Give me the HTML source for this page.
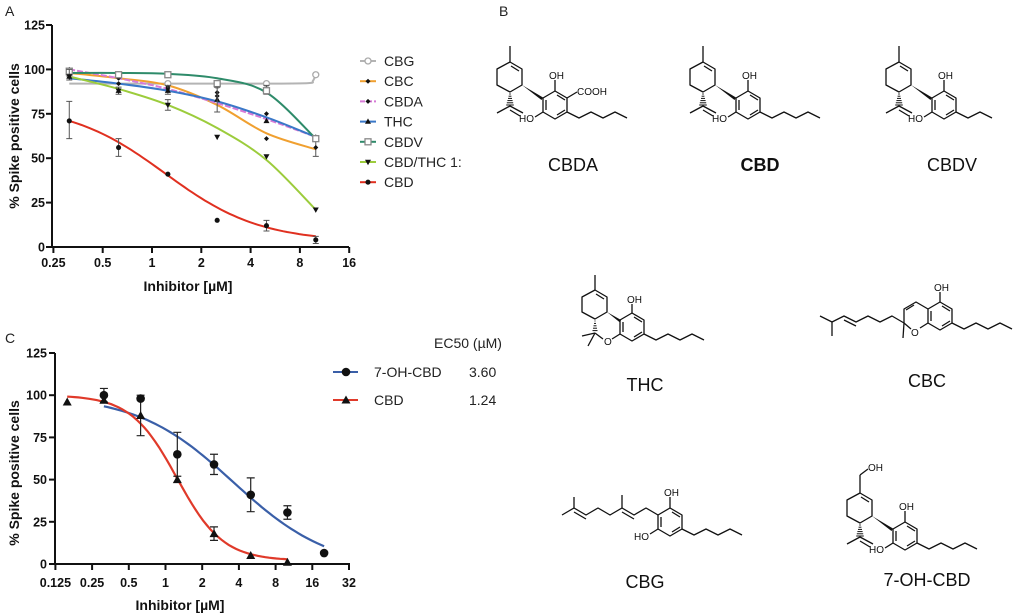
<!DOCTYPE html>
<html><head><meta charset="utf-8">
<style>
html,body{margin:0;padding:0;background:#fff;}
svg{display:block;font-family:"Liberation Sans",sans-serif;}
.t{font-weight:bold;font-size:12.5px;fill:#111;}
.lab{font-weight:bold;font-size:14px;fill:#111;}
.lg{font-size:14px;fill:#222;}
.nm{font-size:18px;fill:#111;}
.at{font-size:10px;fill:#111;}
.m{stroke:#111;stroke-width:1.3;fill:none;stroke-linejoin:round;}
</style></head><body>
<svg id="s" width="1024" height="613" viewBox="0 0 1024 613" xmlns="http://www.w3.org/2000/svg">
<text x="5" y="16" font-size="14" fill="#222">A</text>
<text x="499" y="16" font-size="14" fill="#222">B</text>
<text x="5" y="343" font-size="14" fill="#222">C</text>
<g id="A"></g><g id="C"></g><g id="B"></g>
</svg>
<script>
const NS="http://www.w3.org/2000/svg";
function el(par,tag,attrs,txt){const e=document.createElementNS(NS,tag);for(const k in attrs)e.setAttribute(k,attrs[k]);if(txt!==undefined)e.textContent=txt;par.appendChild(e);return e;}
const gA=document.getElementById('A'),gC=document.getElementById('C'),gB=document.getElementById('B');
const lg2=v=>Math.log2(v);
// ---------- Panel A
const xA=v=>152+49.3*lg2(v), yA=p=>247-p*1.776;
el(gA,'line',{x1:52,y1:25,x2:52,y2:248,stroke:'#111','stroke-width':2});
el(gA,'line',{x1:51,y1:247,x2:349,y2:247,stroke:'#111','stroke-width':2});
[0,25,50,75,100,125].forEach(p=>{el(gA,'line',{x1:46,y1:yA(p),x2:52,y2:yA(p),stroke:'#111','stroke-width':2});el(gA,'text',{x:45,y:yA(p)+4.5,'text-anchor':'end',class:'t'},p);});
[[0.25,'0.25'],[0.5,'0.5'],[1,'1'],[2,'2'],[4,'4'],[8,'8'],[16,'16']].forEach(([v,s])=>{const x=xA(v);el(gA,'line',{x1:x,y1:247,x2:x,y2:253,stroke:'#111','stroke-width':2});el(gA,'text',{x:x,y:267,'text-anchor':'middle',class:'t'},s);});
el(gA,'text',{x:188,y:291,'text-anchor':'middle',class:'lab'},'Inhibitor [µM]');
el(gA,'text',{x:0,y:0,'text-anchor':'middle',class:'lab',transform:'translate(19,136) rotate(-90)'},'% Spike positive cells');
const XS=[0.3125,0.625,1.25,2.5,5,10];
function crPath(pts){let d='M'+pts[0][0]+','+pts[0][1];for(let i=0;i<pts.length-1;i++){const p0=pts[Math.max(0,i-1)],p1=pts[i],p2=pts[i+1],p3=pts[Math.min(pts.length-1,i+2)];const c1=[p1[0]+(p2[0]-p0[0])/6,p1[1]+(p2[1]-p0[1])/6],c2=[p2[0]-(p3[0]-p1[0])/6,p2[1]-(p3[1]-p1[1])/6];d+=` C${c1[0]},${c1[1]} ${c2[0]},${c2[1]} ${p2[0]},${p2[1]}`;}return d;}
function hill(t,b,ec,h){return v=>b+(t-b)/(1+Math.pow(v/ec,h));}
function hillPath(f,x0,x1,X,Y){let d='';for(let i=0;i<=60;i++){const v=x0*Math.pow(x1/x0,i/60);d+=(i?'L':'M')+X(v).toFixed(1)+','+Y(f(v)).toFixed(1);}return d;}
const series=[
 {n:'CBG',c:'#b4b4b4',curve:[[0.3125,92],[0.625,92],[1.25,92],[2.5,92],[5,92],[9,92.3],[9.6,93.5],[10,97]],pts:[97,97,92,91,92,97],mk:'oc'},
 {n:'CBC',c:'#f0a030',curve:[98,95,91,80,64,55],pts:[98,92,90,87,61,56],mk:'d',err:{5:[51,61]}},
 {n:'CBDA',c:'#d77ad7',curve:[100,95,89,81,72,62],pts:[100,95,89,85,75,62],mk:'d',dash:'6,2'},
 {n:'THC',c:'#3a78c8',curve:[95,92,88,82,73,62],pts:[96,88,88,83,71,61],mk:'t',err:{1:[86,90],2:[86,91]}},
 {n:'CBDV',c:'#2e8b6a',curve:[98,98,97.5,95,87,61],pts:[99,97,97,92,88,61],mk:'sq',err:{4:[86,91]}},
 {n:'CBD/THC 1:',c:'#9ccc3c',curve:[96,89,80,67,49,21],pts:[96,88,80,62,51,21],mk:'tv',err:{2:[77,83],3:[76,90],0:[94,100]}},
 {n:'CBD',c:'#e03020',hill:hill(80,3,1.2,1.5),pts:[71,56,41,15,12,4],mk:'c',err:{0:[61,82],1:[51,61],4:[9,15],5:[2,6]}}
];
function marker(g,type,x,y,col,s){s=s||3;
 if(type==='oc')el(g,'circle',{cx:x,cy:y,r:3,fill:'#fff',stroke:'#aaa','stroke-width':1.3});
 else if(type==='sq')el(g,'rect',{x:x-3,y:y-3,width:6,height:6,fill:'#fff',stroke:'#888','stroke-width':1.3});
 else if(type==='t')el(g,'path',{d:`M${x},${y-3.2}L${x+3},${y+2.2}L${x-3},${y+2.2}Z`,fill:'#111'});
 else if(type==='tv')el(g,'path',{d:`M${x},${y+3.2}L${x+3},${y-2.2}L${x-3},${y-2.2}Z`,fill:'#111'});
 else if(type==='d')el(g,'path',{d:`M${x},${y-2.5}L${x+2.5},${y}L${x},${y+2.5}L${x-2.5},${y}Z`,fill:'#111'});
 else el(g,'circle',{cx:x,cy:y,r:s*0.85,fill:'#111'});
}
series.forEach(s=>{
 let d;
 if(s.hill)d=hillPath(s.hill,0.3125,10,xA,yA);
 else{const cp=(typeof s.curve[0]==='number')?s.curve.map((p,i)=>[XS[i],p]):s.curve;d=crPath(cp.map(q=>[xA(q[0]),yA(q[1])]));}
 const a={d:d,fill:'none',stroke:s.c,'stroke-width':2};if(s.dash)a['stroke-dasharray']=s.dash;el(gA,'path',a);
});
series.forEach(s=>{
 if(s.err)for(const k in s.err){const x=xA(XS[k]),[lo,hi]=s.err[k];el(gA,'path',{d:`M${x},${yA(lo)}V${yA(hi)}M${x-3},${yA(lo)}H${x+3}M${x-3},${yA(hi)}H${x+3}`,stroke:'#555','stroke-width':1,fill:'none'});}
 s.pts.forEach((p,i)=>marker(gA,s.mk,xA(XS[i]),yA(p)));
});
series.forEach((s,i)=>{const y=61+20.2*i;const a={x1:360,y1:y,x2:376,y2:y,stroke:s.c,'stroke-width':2};if(s.dash)a['stroke-dasharray']='5,2';el(gA,'line',a);marker(gA,s.mk,368,y);el(gA,'text',{x:384,y:y+5,class:'lg'},s.n);});
// ---------- Panel C
const xC=v=>165.5+36.7*lg2(v), yC=p=>564-p*1.688;
el(gC,'line',{x1:55,y1:353,x2:55,y2:565,stroke:'#111','stroke-width':2});
el(gC,'line',{x1:54,y1:564,x2:350,y2:564,stroke:'#111','stroke-width':2});
[0,25,50,75,100,125].forEach(p=>{el(gC,'line',{x1:49,y1:yC(p),x2:55,y2:yC(p),stroke:'#111','stroke-width':2});el(gC,'text',{x:47,y:yC(p)+4.5,'text-anchor':'end',class:'t'},p);});
[[0.125,'0.125'],[0.25,'0.25'],[0.5,'0.5'],[1,'1'],[2,'2'],[4,'4'],[8,'8'],[16,'16'],[32,'32']].forEach(([v,s])=>{const x=xC(v);el(gC,'line',{x1:x,y1:564,x2:x,y2:570,stroke:'#111','stroke-width':2});el(gC,'text',{x:x,y:587,'text-anchor':'middle',class:'t','font-size':'12'},s);});
el(gC,'text',{x:180,y:610,'text-anchor':'middle',class:'lab'},'Inhibitor [µM]');
el(gC,'text',{x:0,y:0,'text-anchor':'middle',class:'lab',transform:'translate(19,473) rotate(-90)'},'% Spike positive cells');
const fB=hill(100,-3,3.6,1.1), fR=hill(100,2,1.24,2.3);
el(gC,'path',{d:hillPath(fB,0.3125,20,xC,yC),fill:'none',stroke:'#3a5fa8','stroke-width':2.2});
el(gC,'path',{d:hillPath(fR,0.15625,10,xC,yC),fill:'none',stroke:'#e03a2a','stroke-width':2.2});
const bx=[0.3125,0.625,1.25,2.5,5,10,20],bv=[100,98,65,59,41,30.5,6.5],be=[4,0,13,6,10,4,0];
const rx=[0.15625,0.3125,0.625,1.25,2.5,5,10],rv=[96,97,88,50,18,5,1],re=[0,0,12,0,4,0,0];
function ebar(x,v,e){if(!e)return;el(gC,'path',{d:`M${xC(x)},${yC(v-e)}V${yC(v+e)}M${xC(x)-4},${yC(v-e)}H${xC(x)+4}M${xC(x)-4},${yC(v+e)}H${xC(x)+4}`,stroke:'#222','stroke-width':1.2,fill:'none'});}
bx.forEach((x,i)=>ebar(x,bv[i],be[i]));rx.forEach((x,i)=>ebar(x,rv[i],re[i]));
bx.forEach((x,i)=>el(gC,'circle',{cx:xC(x),cy:yC(bv[i]),r:4.3,fill:'#111'}));
rx.forEach((x,i)=>{const X=xC(x),Y=yC(rv[i]);el(gC,'path',{d:`M${X},${Y-4.5}L${X+4.5},${Y+3.5}L${X-4.5},${Y+3.5}Z`,fill:'#111'});});
el(gC,'text',{x:434,y:348,class:'lg'},'EC50 (µM)');
el(gC,'line',{x1:333,y1:372,x2:358,y2:372,stroke:'#3a5fa8','stroke-width':2});el(gC,'circle',{cx:346,cy:372,r:4.3,fill:'#111'});
el(gC,'line',{x1:333,y1:400,x2:358,y2:400,stroke:'#e03a2a','stroke-width':2});el(gC,'path',{d:'M346,395.5L350.5,403.5L341.5,403.5Z',fill:'#111'});
el(gC,'text',{x:374,y:377,class:'lg'},'7-OH-CBD');el(gC,'text',{x:469,y:377,class:'lg'},'3.60');
el(gC,'text',{x:374,y:405,class:'lg'},'CBD');el(gC,'text',{x:469,y:405,class:'lg'},'1.24');
// ---------- Panel B structures
function pl(g,pts){el(g,'polyline',{points:pts.map(p=>p.join(',')).join(' '),class:'m'});}
function ln(g,a,b,w){el(g,'line',{x1:a[0],y1:a[1],x2:b[0],y2:b[1],stroke:'#111','stroke-width':w||1.3});}
function tx(g,x,y,s,anc){el(g,'text',{x:x,y:y,class:'at','text-anchor':anc||'start'},s);}
function zig(g,start,n,up){let p=[[start[0],start[1]]];let x=start[0],y=start[1];for(let i=0;i<n;i++){x+=12;y+=((i%2===0)===up?-6:6);p.push([x,y]);}pl(g,p);}
function cbdCore(dx,dy,opts){const g=el(gB,'g',{transform:`translate(${dx},${dy})`});
 pl(g,[[510,62],[522,69],[522,85],[510,92],[497,85],[497,69],[510,62]]);
 ln(g,[511,66],[519,71]);
 if(opts.ch2oh){ln(g,[510,62],[510,44]);ln(g,[510,44],[518,38]);tx(g,518,40,'OH');}
 else ln(g,[510,62],[510,46]);
 el(g,'path',{d:'M522,85L543,97.5L541.5,100Z',fill:'#111'});
 for(let i=0;i<6;i++){const y=94+i*2.2,w=0.8+i*0.6;ln(g,[510-w,y],[510+w,y],1);}
 ln(g,[510,106],[497,113]);ln(g,[510,106],[523,113]);ln(g,[510,110],[520,116]);
 pl(g,[[555,91],[567,98],[567,112],[555,119],[543,112],[543,98],[555,91]]);
 ln(g,[546,100],[546,110]);ln(g,[557,115],[565,110]);ln(g,[557,95],[565,100]);
 ln(g,[555,91],[555,80]);tx(g,549,79,'OH');
 ln(g,[543,112],[535,117]);tx(g,534,122,'HO','end');
 if(opts.cooh){ln(g,[567,98],[577,92]);tx(g,577,95,'COOH');}
 zig(g,[567,112],opts.n,false);
 return g;}
cbdCore(0,0,{cooh:1,n:5});
cbdCore(193,0,{n:5});
cbdCore(389,0,{n:3});
cbdCore(350,431,{ch2oh:1,n:5});
el(gB,'text',{x:573,y:171,class:'nm','text-anchor':'middle'},'CBDA');
el(gB,'text',{x:760,y:171,class:'nm','text-anchor':'middle','font-weight':'bold'},'CBD');
el(gB,'text',{x:952,y:171,class:'nm','text-anchor':'middle'},'CBDV');
el(gB,'text',{x:645,y:391,class:'nm','text-anchor':'middle'},'THC');
el(gB,'text',{x:927,y:387,class:'nm','text-anchor':'middle'},'CBC');
el(gB,'text',{x:645,y:588,class:'nm','text-anchor':'middle'},'CBG');
el(gB,'text',{x:927,y:586,class:'nm','text-anchor':'middle'},'7-OH-CBD');
// THC
(function(){const g=gB;
 pl(g,[[595,290],[607,297],[607,312],[595,319],[582,312],[582,297],[595,290]]);ln(g,[596,294],[604,299]);ln(g,[595,290],[595,275]);
 el(g,'path',{d:'M607,312L621,320L620,322.5Z',fill:'#111'});
 pl(g,[[632,313],[644,320],[644,334],[632,341],[620,334],[620,320],[632,313]]);ln(g,[623,322],[623,332]);ln(g,[634,317],[642,322]);ln(g,[634,337],[642,332]);
 ln(g,[632,313],[632,304]);tx(g,627,303,'OH');
 zig(g,[644,334],5,false);
 ln(g,[620,334],[612,339]);tx(g,604,345,'O');ln(g,[603,339],[595,333]);
 for(let i=0;i<5;i++)ln(g,[595-0.5-i*.5,321+i*2.4],[595+0.5+i*.5,321+i*2.4],1);
 ln(g,[595,333],[582,336]);ln(g,[595,333],[588,346]);
})();
// CBC
(function(){const g=gB;
 pl(g,[[940,302],[952,309],[952,323],[940,330],[928,323],[928,309],[940,302]]);ln(g,[931,311],[931,321]);ln(g,[942,306],[950,311]);ln(g,[942,326],[950,321]);
 ln(g,[940,302],[940,292]);tx(g,934,291,'OH');
 zig(g,[952,323],5,false);
 pl(g,[[928,309],[916,302],[904,309],[904,323]]);ln(g,[914,305],[906,310]);
 ln(g,[928,323],[920,328]);tx(g,911,336,'O');ln(g,[911,329],[904,323]);
 ln(g,[904,323],[903,338]);
 pl(g,[[904,323],[892,316],[880,322],[868,316],[856,322],[844,316],[832,322]]);
 ln(g,[844,320],[856,326]);
 ln(g,[832,322],[820,316]);ln(g,[832,322],[832,336]);
})();
// CBG
(function(){const g=gB;
 pl(g,[[670,508],[682,515],[682,529],[670,536],[658,529],[658,515],[670,508]]);ln(g,[661,517],[661,527]);ln(g,[672,512],[680,517]);ln(g,[672,532],[680,527]);
 ln(g,[670,508],[670,497]);tx(g,664,496,'OH');
 ln(g,[658,529],[650,534]);tx(g,649,540,'HO','end');
 zig(g,[682,529],5,false);
 pl(g,[[658,515],[646,508],[634,515],[622,508],[610,515],[598,508],[586,515],[574,508]]);
 ln(g,[634,519],[622,512]);ln(g,[586,519],[574,512]);
 ln(g,[622,508],[622,495]);
 ln(g,[574,508],[562,515]);ln(g,[574,508],[574,497]);
})();
</script>
</body></html>
